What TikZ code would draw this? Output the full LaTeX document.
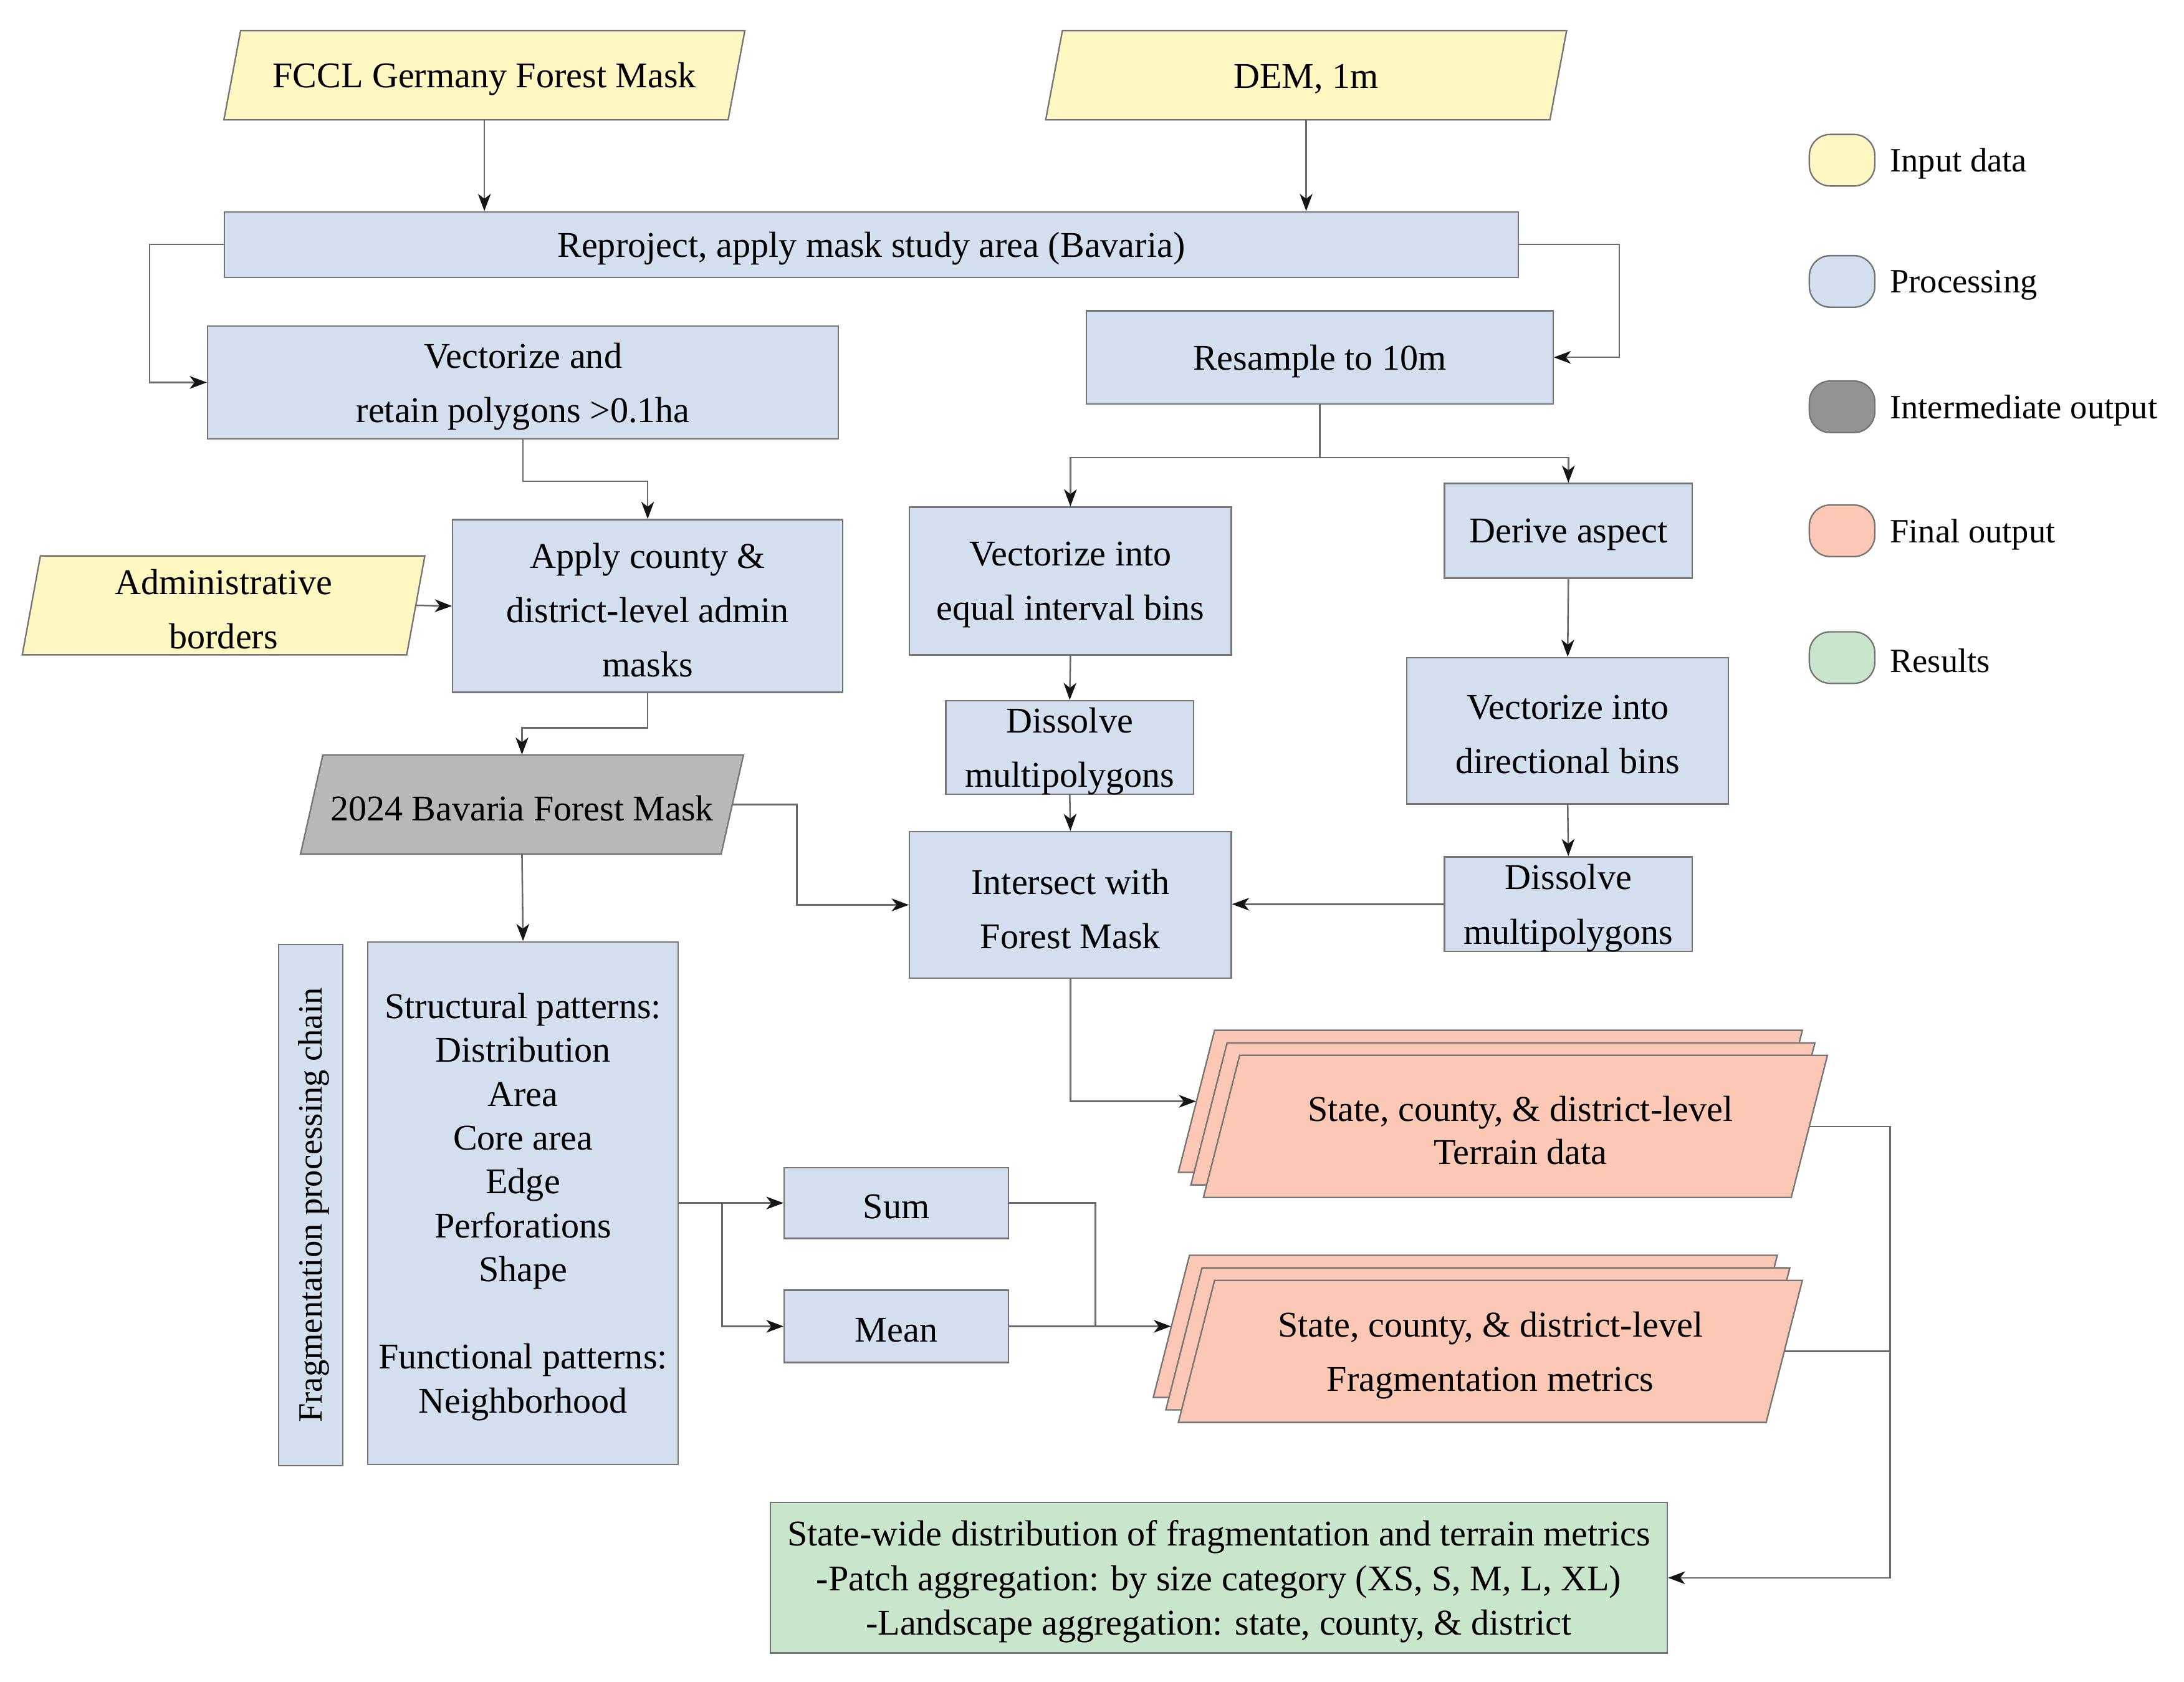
\documentclass[tikz,border=0pt]{standalone}
\usepackage{fontspec}
\setmainfont{Liberation Serif}
\usetikzlibrary{arrows.meta,calc}
\definecolor{cin}{HTML}{FFF7C2}
\definecolor{cproc}{HTML}{D3DEEE}
\definecolor{cmid}{HTML}{B8B8B8}
\definecolor{cmidleg}{HTML}{939393}
\definecolor{cfin}{HTML}{FAC8B4}
\definecolor{cres}{HTML}{C9E5CB}
\definecolor{cedge}{HTML}{757575}
\definecolor{cline}{HTML}{6A6A6A}
\definecolor{ctip}{HTML}{151515}
% parallelogram: [text opts], name, cx, cy, edge length, height, slant, style, text
\newcommand\para[9][]{%
  \path[poly,#8] (#3-#5/2+#7/2,#4-#6/2) -- (#3+#5/2+#7/2,#4-#6/2) -- (#3+#5/2-#7/2,#4+#6/2) -- (#3-#5/2-#7/2,#4+#6/2) -- cycle;
  \node[inner sep=0pt, minimum width=#5*0.02cm, minimum height=#6*0.02cm] (#2) at (#3,#4) {};
  \node[txt, #1] (#2t) at (#2.center) {#9};}
% box: [text opts], name, cx, cy, w, h, box opts, text
\newcommand\bx[8][]{%
  \node[box, minimum width=#5*0.02cm, minimum height=#6*0.02cm, #7] (#2) at (#3,#4) {};
  \node[txt, #1] (#2t) at (#2.center) {#8};}
\begin{document}
\begin{tikzpicture}[x=0.02cm,y=-0.02cm,
  font=\fontsize{14.8}{22.2}\selectfont,
  poly/.style={draw=cedge, line width=0.6pt},
  box/.style={draw=cedge, line width=0.6pt, fill=cproc, inner sep=0pt},
  txt/.style={inner sep=0pt, align=center, yshift=-1.6pt},
  con/.style={draw=cline, line width=0.65pt},
  arr/.style={draw=cline, line width=0.65pt, -{Stealth[length=7pt, width=5.2pt, inset=2pt, color=ctip]}},
  legbox/.style={draw=cedge, line width=0.6pt, rounded corners=0.3cm, minimum width=47*0.02cm, minimum height=37*0.02cm, inner sep=0pt},
  legtxt/.style={anchor=west, inner sep=0pt, yshift=-1.4pt, font=\fontsize{13.9}{16}\selectfont},
]
\useasboundingbox (0,0) rectangle (1568,1207.3);

% input data
\para{fccl}{347.75}{54}{362}{64}{12}{fill=cin}{FCCL Germany Forest Mask}
\para{dem}{937.75}{54}{362}{64}{12}{fill=cin}{DEM, 1m}
\para{admin}{160.5}{434.5}{276}{71}{13}{fill=cin}{Administrative\\borders}

% processing
\bx{reproj}{625.5}{175.5}{929}{47}{}{Reproject, apply mask study area (Bavaria)}
\bx{vect}{375.5}{274.5}{453}{81}{}{Vectorize and\\retain polygons >0.1ha}
\bx{resample}{947.5}{256.5}{335}{67}{}{Resample to 10m}
\bx{apply}{465}{435}{280}{124}{}{Apply county \&\\district-level admin\\masks}
\bx{vecteq}{768.5}{417}{231}{106}{}{Vectorize into\\equal interval bins}
\bx{diss1}{768}{536.5}{178}{67}{}{Dissolve\\multipolygons}
\bx{inter}{768.5}{649.5}{231}{105}{}{Intersect with\\Forest Mask}
\bx{derive}{1126}{381}{178}{68}{}{Derive aspect}
\bx{vectdir}{1125.5}{524.5}{231}{105}{}{Vectorize into\\directional bins}
\bx{diss2}{1126}{649}{178}{68}{}{Dissolve\\multipolygons}

% intermediate output
\para{mask}{374.75}{577.5}{302}{71}{16}{fill=cmid}{2024 Bavaria Forest Mask}

% fragmentation chain
\node[box, minimum width=46*0.02cm, minimum height=374*0.02cm] (chain) at (223,865) {};
\node[inner sep=0pt, rotate=90, font=\fontsize{13.9}{16}\selectfont] (chaint) at ([xshift=1.2pt]chain.center) {Fragmentation processing chain};
\bx[font=\fontsize{14.8}{17.9}\selectfont]{struct}{375.5}{863.5}{223}{375}{}{Structural patterns:\\Distribution\\Area\\Core area\\Edge\\Perforations\\Shape\\[17.9pt]Functional patterns:\\Neighborhood}
\bx{sum}{643.5}{863.5}{161}{51}{}{Sum}
\bx{mean}{643.5}{952}{161}{52}{}{Mean}

% final output stacks
\para{terrA}{1070}{790.5}{422}{102}{26}{fill=cfin}{}
\para{terrM}{1079}{799.5}{422}{102}{26}{fill=cfin}{}
\para[font=\fontsize{14.8}{17.6}\selectfont, xshift=2pt]{terr}{1088}{808.5}{422}{102}{26}{fill=cfin}{State, county, \& district-level\\Terrain data}
\para{fragA}{1052}{952}{422}{102}{26}{fill=cfin}{}
\para{fragM}{1061}{961}{422}{102}{26}{fill=cfin}{}
\para{frag}{1070}{970}{422}{102}{26}{fill=cfin}{State, county, \& district-level\\Fragmentation metrics}

% results
\bx[font=\fontsize{14.8}{18.2}\selectfont]{results}{875}{1132.5}{644}{108}{fill=cres}{State-wide distribution of fragmentation and terrain metrics\\-Patch aggregation: by size category (XS, S, M, L, XL)\\-Landscape aggregation: state, county, \& district}

% legend
\node[legbox, fill=cin] (lg1) at (1322.5,115) {};
\node[legtxt] (lt1) at ($(lg1.east)+(10,0)$) {Input data};
\node[legbox, fill=cproc] (lg2) at (1322.5,202) {};
\node[legtxt] (lt2) at ($(lg2.east)+(10,0)$) {Processing};
\node[legbox, fill=cmidleg] (lg3) at (1322.5,292) {};
\node[legtxt] (lt3) at ($(lg3.east)+(10,0)$) {Intermediate output};
\node[legbox, fill=cfin] (lg4) at (1322.5,381) {};
\node[legtxt] (lt4) at ($(lg4.east)+(10,0)$) {Final output};
\node[legbox, fill=cres] (lg5) at (1322.5,472) {};
\node[legtxt] (lt5) at ($(lg5.east)+(10,0)$) {Results};

% connectors
\draw[arr] (fccl.south) -- (fccl.south |- reproj.north);
\draw[arr] (dem.south) -- (dem.south |- reproj.north);
\draw[arr] (reproj.west) -- ++(-53,0) |- (vect.west);
\draw[arr] (reproj.east) -- ++(72,0) |- (resample.east);
\draw[arr] (vect.south) -- ++(0,30) -| (apply.north);
\draw[arr] (admin.east) -- (apply.west);
\draw[arr] (apply.south) -- ++(0,25) -| (mask.north);
\path (resample.south) ++(0,38) coordinate (rs);
\draw[con] (resample.south) -- (rs);
\draw[arr] (rs) -| (vecteq.north);
\draw[arr] (rs) -| (derive.north);
\draw[arr] (vecteq.south) -- (diss1.north);
\draw[arr] (diss1.south) -- (inter.north);
\draw[arr] (derive.south) -- (vectdir.north);
\draw[arr] (vectdir.south) -- (diss2.north);
\draw[arr] (diss2.west) -- (diss2.west -| inter.east);
\draw[arr] (mask.east) -- ++(46,0) |- (inter.west);
\draw[arr] (mask.south) -- (struct.north);
\draw[arr] (inter.south) |- (terrA.west);
\draw[arr] (struct.east) -- (sum.west);
\path (struct.east) ++(31,0) coordinate (sb);
\draw[arr] (sb) |- (mean.west);
\path (sum.east) ++(62,0) coordinate (sj);
\draw[con] (sum.east) -- (sj) -- (sj |- mean.east);
\draw[arr] (mean.east) -- (fragA.west);
\coordinate (rc) at (1357,1132.5);
\draw[arr] (terr.east) -| (rc) -- (results.east);
\draw[con] (frag.east) -- (frag.east -| rc);
\end{tikzpicture}
\end{document}
